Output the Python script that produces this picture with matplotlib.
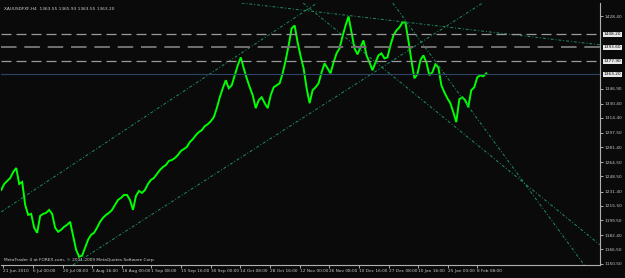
import numpy as np
import matplotlib.pyplot as plt

# XAUUSD H4 closes, one value every 6 bars
closes = [1233.3, 1240.1, 1243.4, 1246.8, 1253.5, 1258.0, 1240.1, 1242.3, 1216.5, 1205.3,
          1206.4, 1190.8, 1185.1, 1204.2, 1206.4, 1207.6, 1210.9, 1206.4, 1190.8, 1186.3,
          1188.5, 1191.9, 1194.1, 1197.5, 1181.8, 1166.1, 1158.2, 1159.4, 1168.3, 1177.3,
          1182.9, 1185.1, 1190.8, 1197.5, 1202.0, 1205.3, 1207.6, 1210.9, 1216.5, 1222.1,
          1224.4, 1227.7, 1227.7, 1222.1, 1210.9, 1226.6, 1232.2, 1230.0, 1233.3, 1240.1,
          1244.6, 1246.8, 1251.3, 1255.8, 1259.1, 1261.4, 1265.9, 1267.0, 1269.2, 1272.6,
          1277.1, 1279.3, 1281.6, 1287.2, 1290.5, 1295.0, 1298.4, 1300.6, 1305.1, 1307.3,
          1310.7, 1315.2, 1325.3, 1337.6, 1347.7, 1356.7, 1347.7, 1351.1, 1362.3, 1373.5,
          1382.4, 1370.1, 1358.9, 1348.8, 1339.8, 1325.3, 1334.2, 1337.6, 1330.9, 1325.3,
          1339.8, 1348.8, 1351.1, 1353.3, 1364.5, 1379.1, 1395.9, 1415.0, 1418.3, 1399.3,
          1383.6, 1370.1, 1347.7, 1330.9, 1345.5, 1348.8, 1353.3, 1365.6, 1375.7, 1370.1,
          1364.5, 1376.8, 1386.9, 1392.5, 1406.0, 1418.3, 1428.4, 1410.5, 1392.5, 1385.8,
          1393.7, 1401.5, 1384.7, 1376.8, 1367.9, 1376.8, 1384.7, 1386.9, 1381.3, 1382.4,
          1395.9, 1407.1, 1412.7, 1416.1, 1421.7, 1421.7, 1401.5, 1379.1, 1358.9, 1363.4,
          1379.1, 1384.7, 1376.8, 1362.3, 1365.6, 1374.6, 1371.2, 1351.1, 1343.2, 1336.5,
          1330.9, 1320.8, 1309.6, 1335.4, 1337.6, 1334.2, 1326.4, 1345.5, 1348.8, 1360.0,
          1362.3, 1361.1, 1364.5]
bar_step = 6

date_labels = ["21 Jun 2010", "6 Jul 00:00", "20 Jul 08:00", "3 Aug 16:00", "18 Aug 00:00",
               "1 Sep 08:00", "15 Sep 16:00", "30 Sep 00:00", "14 Oct 08:00", "28 Oct 16:00",
               "12 Nov 00:00", "26 Nov 08:00", "10 Dec 16:00", "27 Dec 08:00", "10 Jan 16:00",
               "25 Jan 00:00", "8 Feb 08:00"]

price_ticks = [1428.40, 1346.90, 1330.40, 1314.40, 1297.50, 1281.40, 1264.50, 1248.50,
               1231.40, 1215.50, 1199.50, 1182.40, 1166.50, 1150.50]

# horizontal levels
levels = [1408.20, 1393.60, 1377.90]
last_price = 1363.20

# trend lines (bar, price) pairs
trend_lines = [
    ((0, 1208.7), (580, 1423.9)),     # upper channel
    ((160, 1154.9), (960, 1441.9)),   # lower channel
    ((696, 1429.5), (1210, 1395.9)),  # top resistance
    ((810, 1424.0), (1180, 1140.0)),  # steep fall
    ((800, 1354.4), (1200, 1171.6)),  # slower fall
]

bg = '#0a0a0a'
fig = plt.figure(figsize=(6.25, 2.78), dpi=100, facecolor=bg)
ax = fig.add_axes([0.002, 0.047, 0.958, 0.942])
ax.set_facecolor(bg)

x = np.arange(len(closes)) * bar_step
ax.plot(x, closes, color='#00ff00', lw=1.4, solid_joinstyle='miter')

for (x0, y0), (x1, y1) in trend_lines:
    ax.axline((x0, y0), (x1, y1), color='#1f8f5f', lw=0.7, ls=(0, (3, 2, 1, 2)))

for i, lv in enumerate(levels):
    ax.axhline(lv, color='#9a9a9a' if i != 1 else '#707070', lw=0.9 if i != 1 else 1.4,
               ls=(0, (8, 4)))
ax.axhline(last_price, color='#2e4266', lw=0.8)

ax.set_xlim(0, 1200)
ax.set_ylim(1149.0, 1443.5)

for s in ['top', 'left']:
    ax.spines[s].set_visible(False)
for s in ['right', 'bottom']:
    ax.spines[s].set_color('#b0b0b0')
    ax.spines[s].set_linewidth(0.8)

ax.yaxis.tick_right()
ax.set_yticks(price_ticks)
ax.set_yticklabels(['%.2f' % p for p in price_ticks])
tick_x = [4 + 59.4 * i for i in range(len(date_labels))]
ax.set_xticks(tick_x)
ax.set_xticklabels(date_labels, ha='left')
ax.tick_params(colors='#c8c8c8', labelsize=3.1, length=2, width=0.6, pad=1)

# highlighted price labels on the right
for lv in levels + [last_price]:
    ax.text(1.006, lv, '%.2f' % lv, transform=ax.get_yaxis_transform(), fontsize=3.1,
            color='#000000', va='center', ha='left',
            bbox=dict(boxstyle='square,pad=0.15', fc='#e8e8e8', ec='none'))

ax.text(0.004, 0.985, 'XAUUSDFXF,H4  1363.55 1365.93 1363.55 1363.20', transform=ax.transAxes,
        fontsize=3.1, color='#d0d0d0', va='top', ha='left')
ax.text(0.004, 0.012, 'MetaTrader 4 at FOREX.com, \u00a9 2001-2009 MetaQuotes Software Corp.',
        transform=ax.transAxes, fontsize=3.1, color='#d0d0d0', va='bottom', ha='left')

fig.savefig('out.png', dpi=100, facecolor=bg)
